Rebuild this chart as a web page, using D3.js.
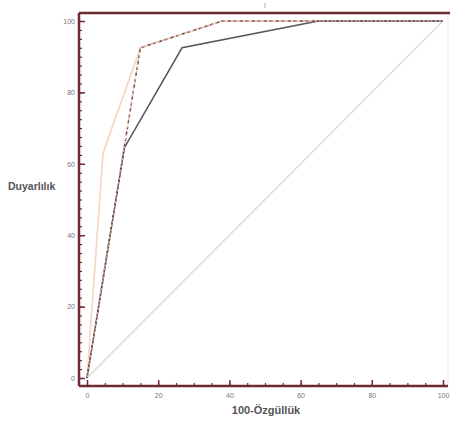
<!DOCTYPE html>
<html><head><meta charset="utf-8">
<script src="https://cdn.jsdelivr.net/npm/d3@7"></script>
<style>body{margin:0;background:#fff}svg{display:block}</style>
</head><body>
<svg id="c" width="450" height="423"></svg>
<script>
const xTicks = [0, 20, 40, 60, 80, 100];
const yTicks = [0, 20, 40, 60, 80, 100];
const xMinor = d3.range(0, 101, 5);
const yMinor = d3.range(0, 101, 2.5);
const diagX = [0, 100], diagY = [0, 100];
const solidX = [0, 10.5, 26.7, 65, 100], solidY = [0, 64.5, 92.5, 100, 100];
const dashX = [0, 15, 38, 100], dashY = [0, 92.5, 100, 100];
const dotX = [0, 15, 38, 100], dotY = [0, 92.5, 100, 100];
const paleX = [0, 4.5, 15, 38, 100], paleY = [0, 63, 92.5, 100, 100];

const svg = d3.select('#c');
const x = d3.scaleLinear().domain([0, 100]).range([87, 443]);
const y = d3.scaleLinear().domain([0, 100]).range([378, 21]);
const axisCol = '#6e2a30';
const L = 79, B = 386, T = 13, R = 448;

svg.append('line').attr('x1', R).attr('x2', R).attr('y1', T).attr('y2', B)
  .attr('stroke', '#eee6e6').attr('stroke-width', 1);

const line = d3.line().x(d => x(d[0])).y(d => y(d[1]));
const pts = (xs, ys) => xs.map((v, i) => [v, ys[i]]);

svg.append('path').attr('d', line(pts(diagX, diagY))).attr('fill', 'none')
  .attr('stroke', '#d8d8d8').attr('stroke-width', 1.2);
svg.append('path').attr('d', line(pts(paleX, paleY))).attr('fill', 'none')
  .attr('stroke', '#f5d8c8').attr('stroke-width', 1.8);
svg.append('path').attr('d', line(pts(solidX, solidY))).attr('fill', 'none')
  .attr('stroke', '#55555c').attr('stroke-width', 1.5);
svg.append('path').attr('d', line(pts(dashX, dashY))).attr('fill', 'none')
  .attr('stroke', '#444').attr('stroke-width', 1.5).attr('stroke-dasharray', '3,3');
svg.append('path').attr('d', line(pts(dotX, dotY))).attr('fill', 'none')
  .attr('stroke', '#e8a898').attr('stroke-width', 1.4).attr('stroke-dasharray', '2,2').attr('stroke-dashoffset', 3);

const gxm = svg.append('g').attr('transform', `translate(0,${B})`)
  .call(d3.axisBottom(x).tickValues(xMinor).tickSizeInner(-3).tickSizeOuter(0).tickFormat(''));
const gym = svg.append('g').attr('transform', `translate(${L},0)`)
  .call(d3.axisLeft(y).tickValues(yMinor).tickSizeInner(-3).tickSizeOuter(0).tickFormat(''));
[gxm, gym].forEach(g => { g.select('.domain').remove(); g.selectAll('line').attr('stroke', axisCol).attr('stroke-width', 1.2); });

const gx = svg.append('g').attr('transform', `translate(0,${B})`)
  .call(d3.axisBottom(x).tickValues(xTicks).tickSizeInner(-6).tickSizeOuter(0).tickPadding(7));
const gy = svg.append('g').attr('transform', `translate(${L},0)`)
  .call(d3.axisLeft(y).tickValues(yTicks).tickSizeInner(-6).tickSizeOuter(0).tickPadding(4));
[gx, gy].forEach(g => {
  g.select('.domain').remove();
  g.selectAll('line').attr('stroke', axisCol).attr('stroke-width', 1.5);
  g.selectAll('text').attr('fill', '#777').attr('font-size', 7).attr('font-family', 'Liberation Sans, Arial, sans-serif');
});

svg.append('line').attr('x1', L).attr('x2', 450).attr('y1', T).attr('y2', T).attr('stroke', axisCol).attr('stroke-width', 2.5);
svg.append('line').attr('x1', L).attr('x2', L).attr('y1', T).attr('y2', B).attr('stroke', axisCol).attr('stroke-width', 2.5);
svg.append('line').attr('x1', L).attr('x2', R).attr('y1', B).attr('y2', B).attr('stroke', axisCol).attr('stroke-width', 2.5);

svg.append('text').attr('x', 8).attr('y', 190).text('Duyarlılık')
  .attr('font-size', 10.5).attr('font-weight', 'bold').attr('fill', '#555').attr('font-family', 'Liberation Sans, Arial, sans-serif');
svg.append('text').attr('x', 266).attr('y', 414).attr('text-anchor', 'middle').text('100-Özgüllük')
  .attr('font-size', 11).attr('font-weight', 'bold').attr('fill', '#555').attr('font-family', 'Liberation Sans, Arial, sans-serif');
svg.append('text').attr('x', 265).attr('y', 8).attr('text-anchor', 'middle').text('I')
  .attr('font-size', 7).attr('fill', '#888').attr('font-family', 'Liberation Sans, Arial, sans-serif');
</script>
</body></html>
